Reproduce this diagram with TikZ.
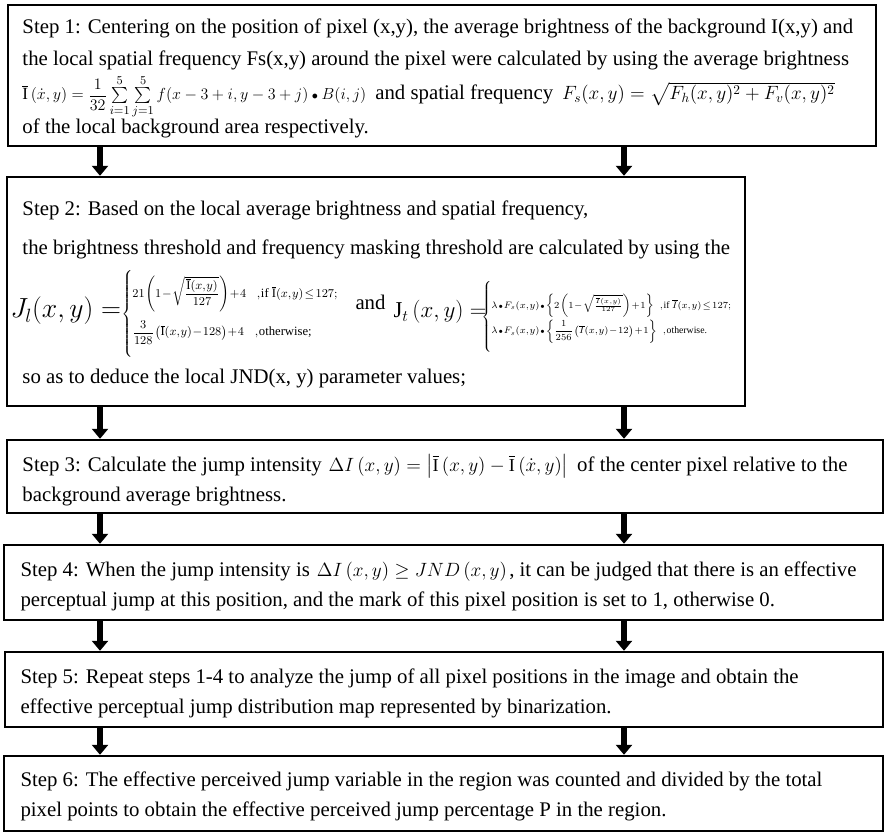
\documentclass[tikz,border=0pt]{standalone}
\usepackage{amsmath}
\usepackage{fontspec}
\setmainfont{Liberation Serif}
\usetikzlibrary{arrows.meta}

\newcommand{\bodysize}{\fontsize{15.6}{18}\selectfont}
\newcommand{\eqsize}{\fontsize{14.5}{17}\selectfont}
\newcommand{\casesize}{\fontsize{9.5}{11}\selectfont}
\newcommand{\smallcase}{\fontsize{7.3}{9}\selectfont}
\newcommand{\tightmath}{\thinmuskip=1mu\medmuskip=1mu\thickmuskip=2mu}
\newcommand{\Ibar}{\overline{\mathrm{I}}}
\newcommand{\dotop}{\mathbin{\scriptstyle\bullet}}

\tikzset{every picture/.style={line width=0.75pt}}
\tikzset{
  stepbox/.style={draw, line width=1.8pt, rectangle, inner sep=0pt},
  flow/.style={line width=4pt, -{Triangle[width=12pt,length=7.5pt]}},
  txtline/.style={anchor=base west, inner sep=0pt, font=\bodysize},
}

\begin{document}
\begin{tikzpicture}[x=0.75pt,y=0.75pt,yscale=-1,xscale=1]
	\useasboundingbox (0,0) rectangle (886,834);

	%Boxes
	\node[stepbox, minimum width=651pt, minimum height=105.75pt] (s1) at (442,75.5) {};
	\node[stepbox, minimum width=553.5pt, minimum height=171.75pt] (s2) at (376,291.5) {};
	\node[stepbox, minimum width=657pt, minimum height=54.75pt] (s3) at (445,476.5) {};
	\node[stepbox, minimum width=659.25pt, minimum height=56.25pt] (s4) at (443.5,582.5) {};
	\node[stepbox, minimum width=658.5pt, minimum height=56.25pt] (s5) at (444,689.5) {};
	\node[stepbox, minimum width=659.25pt, minimum height=56.25pt] (s6) at (443.5,793.5) {};

	%Arrow columns
	\coordinate (ax1) at (100,0);
	\coordinate (ax2) at (624,0);
	\foreach \a/\b in {s1/s2,s2/s3,s3/s4,s4/s5,s5/s6}
	  \foreach \c in {ax1,ax2}
	    \draw[flow] (\a.south -| \c) -- (\b.north -| \c);

	% Step 1
	\node[txtline] (t1a) at (22,34) {Step 1: Centering on the position of pixel (x,y), the average brightness of the background I(x,y) and};
	\node[txtline] (t1b) at (22,66) {the local spatial frequency Fs(x,y) around the pixel were calculated by using the average brightness};
	\node[txtline, font=\fontsize{12.8}{15}\selectfont] (e1a) at (22,100) {$\Ibar\left(\dot{x},y\right)=\dfrac{1}{32}\sum\limits_{i=1}^{5}\sum\limits_{j=1}^{5}f(x-3+i,y-3+j)\dotop B(i,j)$};
	\node[txtline, xshift=6pt] (t1c) at (e1a.base east) {and spatial frequency};
	\node[txtline, font=\eqsize, xshift=6pt] (e1b) at (t1c.base east) {$F_s(x,y)=\sqrt{F_h(x,y)^2+F_v(x,y)^2}$};
	\node[txtline] (t1d) at (22,134) {of the local background area respectively.};

	% Step 2
	\node[txtline] (t2a) at (22,216) {Step 2: Based on the local average brightness and spatial frequency,};
	\node[txtline] (t2b) at (22,255) {the brightness threshold and frequency masking threshold are calculated by using the};
	\node[anchor=west, inner sep=0pt, font=\fontsize{20}{24}\selectfont] (jl) at (10,311) {$J_l(x,y)=$};
	\node[anchor=west, inner sep=0pt, font={\casesize\tightmath}] (cl) at (121,314) {$\left\{\begin{array}{@{}l@{}}
	  \rule{0pt}{22pt}21\left(1-\sqrt{\dfrac{\Ibar(x,y)}{127}}\right)+4\hspace{8pt},\text{if } \Ibar(x,y)\le 127;\\[14pt]
	  \dfrac{3}{128}\left(\Ibar(x,y)-128\right)+4\hspace{8pt},\text{otherwise;}\rule[-18pt]{0pt}{18pt}
	\end{array}\right.$};
	\node[txtline] (and) at (355,310) {and};
	\node[anchor=west, inner sep=0pt, font=\fontsize{17}{20}\selectfont] (jt) at (393,312) {$\mathrm{J}_t\left(x,y\right)=$};
	\node[anchor=west, inner sep=0pt, font={\smallcase\tightmath}] (cr) at (481,317) {$\left\{\begin{array}{@{}l@{}}
	  \rule{0pt}{22pt}\lambda\dotop F_s(x,y)\dotop\left\{2\left(1-\sqrt{\frac{\overline{I}(x,y)}{127}}\right)+1\right\}\hspace{4pt},\text{if } \overline{I}(x,y)\le 127;\\[6pt]
	  \lambda\dotop F_s(x,y)\dotop\left\{\dfrac{1}{256}\left(\overline{I}(x,y)-12\right)+1\right\}\hspace{4pt},\text{otherwise.}\rule[-16pt]{0pt}{16pt}
	\end{array}\right.$};
	\node[txtline] (t2c) at (22,384) {so as to deduce the local JND(x, y) parameter values;};

	% Step 3
	\node[txtline] (t3a) at (22,471) {Step 3: Calculate the jump intensity};
	\node[txtline, font=\fontsize{13.65}{16}\selectfont, xshift=4.5pt] (e3) at (t3a.base east) {$\Delta I\left(x,y\right)=\left|\Ibar\left(x,y\right)-\Ibar\left(\dot{x},y\right)\right|$};
	\node[txtline, xshift=6pt] (t3b) at (e3.base east) {of the center pixel relative to the};
	\node[txtline] (t3c) at (22,501) {background average brightness.};

	% Step 4
	\node[txtline] (t4a) at (20,576) {Step 4: When the jump intensity is};
	\node[txtline, font=\fontsize{14}{16}\selectfont, xshift=4.5pt] (e4) at (t4a.base east) {$\Delta I\left(x,y\right)\ge JND\left(x,y\right)$};
	\node[txtline, xshift=1pt] (t4b) at (e4.base east) {, it can be judged that there is an effective};
	\node[txtline] (t4c) at (20,606) {perceptual jump at this position, and the mark of this pixel position is set to 1, otherwise 0.};

	% Step 5
	\node[txtline] (t5a) at (20,683) {Step 5: Repeat steps 1-4 to analyze the jump of all pixel positions in the image and obtain the};
	\node[txtline] (t5b) at (20,713) {effective perceptual jump distribution map represented by binarization.};

	% Step 6
	\node[txtline] (t6a) at (20,786) {Step 6: The effective perceived jump variable in the region was counted and divided by the total};
	\node[txtline] (t6b) at (20,816) {pixel points to obtain the effective perceived jump percentage P in the region.};

\end{tikzpicture}
\end{document}
